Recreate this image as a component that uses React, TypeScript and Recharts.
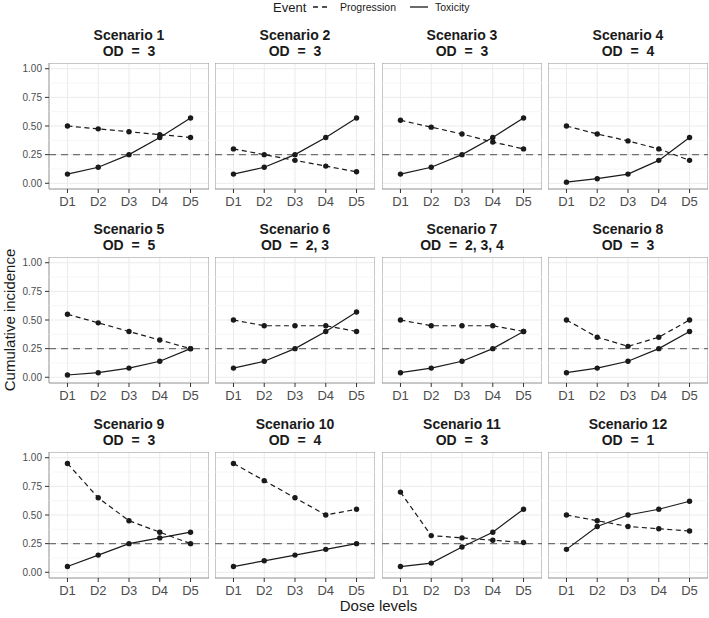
import React from "react";
import {
  LineChart,
  Line,
  XAxis,
  YAxis,
  CartesianGrid,
  ReferenceLine,
  ReferenceArea,
} from "recharts";

const doses = ["D1", "D2", "D3", "D4", "D5"];
const scenarioNames = [
  "Scenario 1", "Scenario 2", "Scenario 3", "Scenario 4",
  "Scenario 5", "Scenario 6", "Scenario 7", "Scenario 8",
  "Scenario 9", "Scenario 10", "Scenario 11", "Scenario 12",
];
const odLevels = ["3", "3", "3", "4", "5", "2, 3", "2, 3, 4", "3", "3", "4", "3", "1"];

// cumulative incidence of progression, one row per scenario (D1..D5)
const progression = [
  [0.5, 0.475, 0.45, 0.425, 0.4],
  [0.3, 0.25, 0.2, 0.15, 0.1],
  [0.55, 0.49, 0.43, 0.36, 0.3],
  [0.5, 0.43, 0.37, 0.3, 0.2],
  [0.55, 0.475, 0.4, 0.325, 0.25],
  [0.5, 0.45, 0.45, 0.45, 0.4],
  [0.5, 0.45, 0.45, 0.45, 0.4],
  [0.5, 0.35, 0.27, 0.35, 0.5],
  [0.95, 0.65, 0.45, 0.35, 0.25],
  [0.95, 0.8, 0.65, 0.5, 0.55],
  [0.7, 0.32, 0.3, 0.28, 0.26],
  [0.5, 0.45, 0.4, 0.38, 0.36],
];

// cumulative incidence of toxicity
const toxicity = [
  [0.08, 0.14, 0.25, 0.4, 0.57],
  [0.08, 0.14, 0.25, 0.4, 0.57],
  [0.08, 0.14, 0.25, 0.4, 0.57],
  [0.01, 0.04, 0.08, 0.2, 0.4],
  [0.02, 0.04, 0.08, 0.14, 0.25],
  [0.08, 0.14, 0.25, 0.4, 0.57],
  [0.04, 0.08, 0.14, 0.25, 0.4],
  [0.04, 0.08, 0.14, 0.25, 0.4],
  [0.05, 0.15, 0.25, 0.3, 0.35],
  [0.05, 0.1, 0.15, 0.2, 0.25],
  [0.05, 0.08, 0.22, 0.35, 0.55],
  [0.2, 0.4, 0.5, 0.55, 0.62],
];

const yTicks = [0, 0.25, 0.5, 0.75, 1];
const yMinor = [0.125, 0.375, 0.625, 0.875];
const targetRate = 0.25;

const FONT = '"Liberation Sans", Arial, Helvetica, sans-serif';
const colLeft = [49, 215, 382, 548];
const rowTop = [63, 257, 452];
const PW = 160;
const PH = 126;
const YW = 30;
const XH = 26;
const LINE = "#1a1a1a";

function Panel({ k }: { k: number }) {
  const col = k % 4;
  const row = Math.floor(k / 4);
  const showY = col === 0;
  const data = doses.map((d, i) => ({
    x: i + 1,
    prog: progression[k][i],
    tox: toxicity[k][i],
  }));
  const left = colLeft[col] - (showY ? YW : 0);
  const top = rowTop[row];

  return (
    <>
      <div
        style={{
          position: "absolute",
          left: colLeft[col],
          top: top - 36,
          width: PW,
          textAlign: "center",
          fontWeight: "bold",
          fontSize: 14,
          lineHeight: "16px",
          color: "#1a1a1a",
          whiteSpace: "pre",
        }}
      >
        <div>{scenarioNames[k]}</div>
        <div>{"OD  =  " + odLevels[k]}</div>
      </div>
      <div style={{ position: "absolute", left, top }}>
        <LineChart
          width={PW + (showY ? YW : 0)}
          height={PH + XH}
          data={data}
          margin={{ top: 0, right: 0, bottom: 0, left: 0 }}
        >
          <CartesianGrid stroke="#ebebeb" strokeWidth={1} />
          {yMinor.map((v) => (
            <ReferenceLine key={v} y={v} stroke="#f2f2f2" strokeWidth={0.7} />
          ))}
          <XAxis
            dataKey="x"
            type="number"
            domain={[0.4, 5.6]}
            ticks={[1, 2, 3, 4, 5]}
            tickFormatter={(v) => doses[v - 1]}
            allowDataOverflow
            height={XH}
            axisLine={false}
            tickSize={4}
            tickMargin={4}
            tickLine={{ stroke: "#333" }}
            tick={{ fontSize: 13, fill: "#4d4d4d", fontFamily: FONT }}
          />
          <YAxis
            type="number"
            domain={[-0.05, 1.05]}
            ticks={yTicks}
            tickFormatter={(v) => v.toFixed(2)}
            allowDataOverflow
            hide={!showY}
            width={YW}
            axisLine={false}
            tickSize={4}
            tickMargin={3}
            tickLine={{ stroke: "#333" }}
            tick={{ fontSize: 10, fill: "#4d4d4d", fontFamily: FONT }}
          />
          <ReferenceLine
            y={targetRate}
            stroke="#707070"
            strokeWidth={1.3}
            strokeDasharray="7 5"
          />
          <Line
            dataKey="prog"
            type="linear"
            stroke={LINE}
            strokeWidth={1.2}
            strokeDasharray="5 3.5"
            dot={{ r: 2.7, fill: LINE, stroke: "none" }}
            activeDot={false}
            isAnimationActive={false}
          />
          <Line
            dataKey="tox"
            type="linear"
            stroke={LINE}
            strokeWidth={1.2}
            dot={{ r: 2.7, fill: LINE, stroke: "none" }}
            activeDot={false}
            isAnimationActive={false}
          />
          <ReferenceArea
            x1={0.4}
            x2={5.6}
            y1={-0.05}
            y2={1.05}
            fill="none"
            stroke="#9a9a9a"
            strokeWidth={1}
            ifOverflow="visible"
          />
        </LineChart>
      </div>
    </>
  );
}

const legendText = (left: number, size: number, text: string) => (
  <div
    style={{
      position: "absolute",
      left,
      top: 0,
      height: 15,
      lineHeight: "15px",
      fontSize: size,
      color: "#1a1a1a",
      whiteSpace: "nowrap",
    }}
  >
    {text}
  </div>
);

export default function App() {
  return (
    <div
      style={{
        position: "relative",
        width: 709,
        height: 618,
        background: "#fff",
        fontFamily: FONT,
        overflow: "hidden",
      }}
    >
      <style>{"body{margin:0;}"}</style>

      {/* legend */}
      {legendText(273, 13, "Event")}
      <svg style={{ position: "absolute", left: 313, top: 2 }} width={18} height={10}>
        <line x1={0} y1={5} x2={18} y2={5} stroke={LINE} strokeWidth={1.3} strokeDasharray="5 4" />
      </svg>
      {legendText(340, 10.5, "Progression")}
      <svg style={{ position: "absolute", left: 410, top: 2 }} width={18} height={10}>
        <line x1={0} y1={5} x2={18} y2={5} stroke={LINE} strokeWidth={1.3} />
      </svg>
      {legendText(435, 10.5, "Toxicity")}

      {scenarioNames.map((_, k) => (
        <Panel key={k} k={k} />
      ))}

      {/* axis titles */}
      <div
        style={{
          position: "absolute",
          left: 9,
          top: 320,
          transform: "translate(-50%, -50%) rotate(-90deg)",
          fontSize: 15,
          whiteSpace: "nowrap",
          color: "#1a1a1a",
        }}
      >
        Cumulative incidence
      </div>
      <div
        style={{
          position: "absolute",
          left: 49,
          width: 659,
          top: 597,
          textAlign: "center",
          fontSize: 15,
          lineHeight: "18px",
          color: "#1a1a1a",
        }}
      >
        Dose levels
      </div>
    </div>
  );
}
